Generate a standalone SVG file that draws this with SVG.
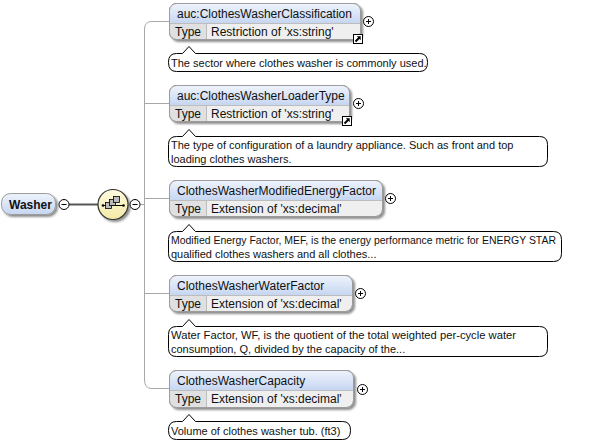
<svg xmlns="http://www.w3.org/2000/svg" width="604" height="443" viewBox="0 0 604 443">
<defs>
<linearGradient id="hdr" x1="0" y1="0" x2="0" y2="1">
<stop offset="0" stop-color="#eef3fc"/>
<stop offset="1" stop-color="#c6d6f1"/>
</linearGradient>
<linearGradient id="seq" x1="0" y1="0" x2="0" y2="1">
<stop offset="0" stop-color="#fffbe0"/>
<stop offset="1" stop-color="#f4e9a6"/>
</linearGradient>
<filter id="sh" x="-20%" y="-20%" width="140%" height="150%">
<feGaussianBlur in="SourceAlpha" stdDeviation="1.2"/>
<feOffset dx="1.5" dy="2" result="b"/>
<feComponentTransfer><feFuncA type="linear" slope="0.45"/></feComponentTransfer>
<feMerge><feMergeNode/><feMergeNode in="SourceGraphic"/></feMerge>
</filter>
<g id="plus"><circle r="5" fill="#fff" stroke="#000" stroke-width="1"/><path d="M-2.5,0H2.5M0,-2.5V2.5" stroke="#000" stroke-width="1"/></g>
<g id="minus"><circle r="5" fill="#fff" stroke="#000" stroke-width="1"/><path d="M-2.5,0H2.5" stroke="#000" stroke-width="1"/></g>
<g id="link"><rect x="0.5" y="0.5" width="9" height="9" fill="#fff" stroke="#000"/><path d="M2.5,7.5L6.5,3.5" stroke="#000" stroke-width="2"/><path d="M3.8,2.3H7.7V6.2Z" fill="#000"/></g>
</defs>
<style>
.t{font-family:"Liberation Sans",Arial,sans-serif;font-size:12px;fill:#111}
.d{font-family:"Liberation Sans",Arial,sans-serif;font-size:11px;fill:#111}
.frame{fill:#efefef;stroke:#9c9c9c;stroke-width:1}
.hd{fill:url(#hdr);stroke:none}
.tc{fill:#e0e0e0;stroke:none}
.ln{stroke:#bdbdbd;stroke-width:1;fill:none}
.bub{fill:#fff;stroke:#000;stroke-width:1}
.conn{stroke:#a8a8a8;stroke-width:1;fill:none}
</style>

<g id="connectors">
<path class="conn" d="M169,21.5H152Q144.5,21.5 144.5,29V380Q144.5,388.5 152,388.5H169"/>
<path class="conn" d="M144.5,103.5H169M144.5,198.5H169M144.5,293.5H169M140,204.5H144.5"/>
<path d="M69,204.5H98" stroke="#555" stroke-width="2" fill="none"/>
</g>

<g id="washer">
<rect x="1.5" y="193.5" width="54" height="21" rx="9" fill="url(#hdr)" stroke="#9c9c9c" filter="url(#sh)"/>
<text class="t" x="9" y="209" font-weight="bold">Washer</text>
<use href="#minus" x="64" y="204.5"/>
</g>

<g id="sequence">
<circle cx="113" cy="204.5" r="15" fill="url(#seq)" stroke="#333" stroke-width="1.2" filter="url(#sh)"/>
<path d="M102,205.5H124" stroke="#000" stroke-width="1"/>
<circle cx="103" cy="205.5" r="1.3" fill="#000"/>
<circle cx="123.5" cy="205.5" r="1.3" fill="#000"/>
<rect x="105.5" y="202.5" width="6" height="6" fill="#bcbcbc" stroke="#000" stroke-width="0.8"/>
<rect x="109.5" y="199.5" width="6" height="6" fill="#bcbcbc" stroke="#000" stroke-width="0.8"/>
<rect x="113.5" y="196.5" width="6" height="6" fill="#bcbcbc" stroke="#000" stroke-width="0.8"/>
<use href="#minus" x="135" y="204.5"/>
</g>

<g id="el1">
<g filter="url(#sh)">
<rect class="frame" x="169.5" y="3.5" width="191" height="36" rx="7"/>
</g>
<path class="hd" d="M170,23V10.5Q170,4 176.5,4H353.5Q360,4 360,10.5V23Z"/>
<path class="tc" d="M170,23.5H206V39H176.5Q170,39 170,32.5Z"/>
<path class="ln" d="M170,23.5H360M206.5,23.5V39"/>
<rect x="169.5" y="3.5" width="191" height="36" rx="7" fill="none" stroke="#9c9c9c"/>
<text class="t" x="177" y="17.5">auc:ClothesWasherClassification</text>
<text class="t" x="175" y="35.5">Type</text>
<text class="t" x="211" y="35.5">Restriction of 'xs:string'</text>
<use href="#plus" x="368.5" y="21.5"/>
<use href="#link" x="353" y="34"/>
<path class="bub" d="M176.5,53.5H182.5L189,46.5L195.5,53.5H419.5Q427.5,53.5 427.5,62V62.5Q427.5,71.5 419.5,71.5H176.5Q168.5,71.5 168.5,62.5V62Q168.5,53.5 176.5,53.5Z"/>
<text class="d" x="171" y="66.5">The sector where clothes washer is commonly used.</text>
</g>

<g id="el2">
<g filter="url(#sh)">
<rect class="frame" x="169.5" y="85.5" width="180" height="36" rx="7"/>
</g>
<path class="hd" d="M170,105V92.5Q170,86 176.5,86H342.5Q349,86 349,92.5V105Z"/>
<path class="tc" d="M170,105.5H206V121H176.5Q170,121 170,114.5Z"/>
<path class="ln" d="M170,105.5H349M206.5,105.5V121"/>
<rect x="169.5" y="85.5" width="180" height="36" rx="7" fill="none" stroke="#9c9c9c"/>
<text class="t" x="177" y="99.5">auc:ClothesWasherLoaderType</text>
<text class="t" x="175" y="117.5">Type</text>
<text class="t" x="211" y="117.5">Restriction of 'xs:string'</text>
<use href="#plus" x="358.5" y="103.5"/>
<use href="#link" x="342" y="116"/>
<path class="bub" d="M176.5,136.5H182.5L189,129.5L195.5,136.5H539.5Q547.5,136.5 547.5,144.5V158.5Q547.5,166.5 539.5,166.5H176.5Q168.5,166.5 168.5,158.5V144.5Q168.5,136.5 176.5,136.5Z"/>
<text class="d" x="171" y="148.5">The type of configuration of a laundry appliance. Such as front and top</text>
<text class="d" x="171" y="162.5">loading clothes washers.</text>
</g>

<g id="el3">
<g filter="url(#sh)">
<rect class="frame" x="169.5" y="180.5" width="213" height="36" rx="7"/>
</g>
<path class="hd" d="M170,200V187.5Q170,181 176.5,181H375.5Q382,181 382,187.5V200Z"/>
<path class="tc" d="M170,200.5H206V216H176.5Q170,216 170,209.5Z"/>
<path class="ln" d="M170,200.5H382M206.5,200.5V216"/>
<rect x="169.5" y="180.5" width="213" height="36" rx="7" fill="none" stroke="#9c9c9c"/>
<text class="t" x="177" y="194.5">ClothesWasherModifiedEnergyFactor</text>
<text class="t" x="175" y="212.5">Type</text>
<text class="t" x="211" y="212.5">Extension of 'xs:decimal'</text>
<use href="#plus" x="390.5" y="198.5"/>
<path class="bub" d="M176.5,231.5H182.5L189,224.5L195.5,231.5H553.5Q561.5,231.5 561.5,239.5V253.5Q561.5,261.5 553.5,261.5H176.5Q168.5,261.5 168.5,253.5V239.5Q168.5,231.5 176.5,231.5Z"/>
<text class="d" x="171" y="243.5" textLength="385" lengthAdjust="spacingAndGlyphs">Modified Energy Factor, MEF, is the energy performance metric for ENERGY STAR</text>
<text class="d" x="171" y="257.5">qualified clothes washers and all clothes...</text>
</g>

<g id="el4">
<g filter="url(#sh)">
<rect class="frame" x="169.5" y="275.5" width="183" height="36" rx="7"/>
</g>
<path class="hd" d="M170,295V282.5Q170,276 176.5,276H345.5Q352,276 352,282.5V295Z"/>
<path class="tc" d="M170,295.5H206V311H176.5Q170,311 170,304.5Z"/>
<path class="ln" d="M170,295.5H352M206.5,295.5V311"/>
<rect x="169.5" y="275.5" width="183" height="36" rx="7" fill="none" stroke="#9c9c9c"/>
<text class="t" x="177" y="289.5">ClothesWasherWaterFactor</text>
<text class="t" x="175" y="307.5">Type</text>
<text class="t" x="211" y="307.5">Extension of 'xs:decimal'</text>
<use href="#plus" x="360.5" y="293.5"/>
<path class="bub" d="M176.5,326.5H182.5L189,319.5L195.5,326.5H539.5Q547.5,326.5 547.5,334.5V348.5Q547.5,356.5 539.5,356.5H176.5Q168.5,356.5 168.5,348.5V334.5Q168.5,326.5 176.5,326.5Z"/>
<text class="d" x="171" y="338.5" textLength="345" lengthAdjust="spacingAndGlyphs">Water Factor, WF, is the quotient of the total weighted per-cycle water</text>
<text class="d" x="171" y="352.5">consumption, Q, divided by the capacity of the...</text>
</g>

<g id="el5">
<g filter="url(#sh)">
<rect class="frame" x="169.5" y="370.5" width="184" height="37" rx="7"/>
</g>
<path class="hd" d="M170,390V377.5Q170,371 176.5,371H346.5Q353,371 353,377.5V390Z"/>
<path class="tc" d="M170,390.5H206V407H176.5Q170,407 170,400.5Z"/>
<path class="ln" d="M170,390.5H353M206.5,390.5V407"/>
<rect x="169.5" y="370.5" width="184" height="37" rx="7" fill="none" stroke="#9c9c9c"/>
<text class="t" x="177" y="384.5">ClothesWasherCapacity</text>
<text class="t" x="175" y="403">Type</text>
<text class="t" x="211" y="403">Extension of 'xs:decimal'</text>
<use href="#plus" x="362.5" y="389.5"/>
<path class="bub" d="M176.5,421.5H182.5L189,414.5L195.5,421.5H342.5Q350.5,421.5 350.5,430V430.5Q350.5,439.5 342.5,439.5H176.5Q168.5,439.5 168.5,430.5V430Q168.5,421.5 176.5,421.5Z"/>
<text class="d" x="171" y="434.5">Volume of clothes washer tub. (ft3)</text>
</g>
</svg>
